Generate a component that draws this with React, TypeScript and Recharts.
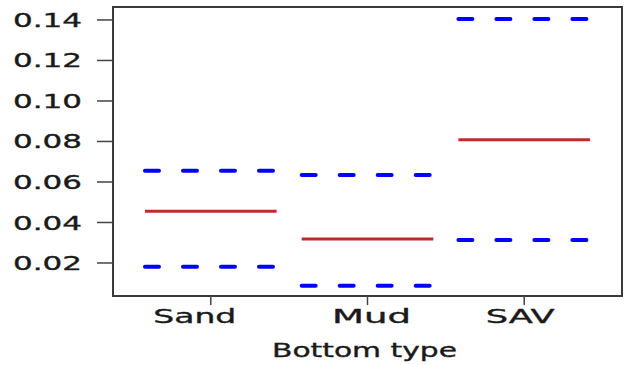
import React from "react";
import {
  ComposedChart,
  Line,
  XAxis,
  YAxis,
  ReferenceArea,
} from "recharts";

// bottom types and their estimate with lower / upper interval bounds
const categories = ["Sand", "Mud", "SAV"];
const means = [0.0455, 0.0319, 0.0809];
const lower = [0.0182, 0.0088, 0.0314];
const upper = [0.0656, 0.0635, 0.1405];
const yTicks = [0.02, 0.04, 0.06, 0.08, 0.1, 0.12, 0.14];

const X_DOMAIN: [number, number] = [0.376, 3.624];
const Y_DOMAIN: [number, number] = [0.0037, 0.1464];
const HALF = 0.42;
const FONT = "'DejaVu Sans', Verdana, sans-serif";
const INK = "#1a1a1a";

// stretched label widths and small horizontal nudges for the category names
const catWidth = [83, 79, 69];
const catNudge = [-16, 4, -4];

const segment = (i: number, v: number) => [
  { x: i + 1 - HALF, y: v },
  { x: i + 1 + HALF, y: v },
];

const textStyle = {
  fontFamily: FONT,
  fill: INK,
  stroke: INK,
  strokeWidth: 0.35,
  lengthAdjust: "spacingAndGlyphs",
};

const YTick = (props: any) => {
  const { x, y, payload } = props;
  return (
    <text x={x} y={y} dy="0.36em" textAnchor="end" fontSize={19.5} textLength={69} {...textStyle}>
      {payload.value.toFixed(2)}
    </text>
  );
};

const XTick = (props: any) => {
  const { x, y, payload } = props;
  const i = payload.value - 1;
  return (
    <text
      x={x + catNudge[i]}
      y={y}
      dy="0.76em"
      textAnchor="middle"
      fontSize={20}
      textLength={catWidth[i]}
      {...textStyle}
    >
      {categories[i]}
    </text>
  );
};

const XTitle = (props: any) => {
  const { viewBox } = props;
  const cx = viewBox.x + viewBox.width / 2 - 3;
  return (
    <text x={cx} y={357} textAnchor="middle" fontSize={19.5} textLength={185} {...textStyle}>
      Bottom type
    </text>
  );
};

export default function App() {
  return (
    <div style={{ position: "fixed", left: 0, top: 0, background: "#fff" }}>
      <ComposedChart width={625} height={365} margin={{ top: 7, right: 3, bottom: 0, left: 0 }}>
        <XAxis
          type="number"
          dataKey="x"
          domain={X_DOMAIN}
          allowDataOverflow
          ticks={[1, 2, 3]}
          height={69}
          tickSize={9}
          tickMargin={3}
          tick={<XTick />}
          axisLine={false}
          tickLine={{ stroke: "#444", strokeWidth: 1.5 }}
          label={<XTitle />}
        />
        <YAxis
          type="number"
          domain={Y_DOMAIN}
          allowDataOverflow
          ticks={yTicks}
          width={113}
          tickSize={16}
          tickMargin={15}
          tick={<YTick />}
          axisLine={false}
          tickLine={{ stroke: "#444", strokeWidth: 1.5 }}
        />
        <ReferenceArea
          x1={X_DOMAIN[0]}
          x2={X_DOMAIN[1]}
          y1={Y_DOMAIN[0]}
          y2={Y_DOMAIN[1]}
          fill="none"
          stroke="#3a3a3a"
          strokeWidth={2}
        />
        {categories.map((c, i) => (
          <Line
            key={`up-${c}`}
            data={segment(i, upper[i])}
            dataKey="y"
            stroke="#0000ff"
            strokeWidth={4}
            strokeDasharray="14 24"
            strokeLinecap="round"
            dot={false}
            isAnimationActive={false}
          />
        ))}
        {categories.map((c, i) => (
          <Line
            key={`lo-${c}`}
            data={segment(i, lower[i])}
            dataKey="y"
            stroke="#0000ff"
            strokeWidth={4}
            strokeDasharray="14 24"
            strokeLinecap="round"
            dot={false}
            isAnimationActive={false}
          />
        ))}
        {categories.map((c, i) => (
          <Line
            key={`mean-${c}`}
            data={segment(i, means[i])}
            dataKey="y"
            stroke="#bf2a2e"
            strokeWidth={3}
            dot={false}
            isAnimationActive={false}
          />
        ))}
      </ComposedChart>
    </div>
  );
}
